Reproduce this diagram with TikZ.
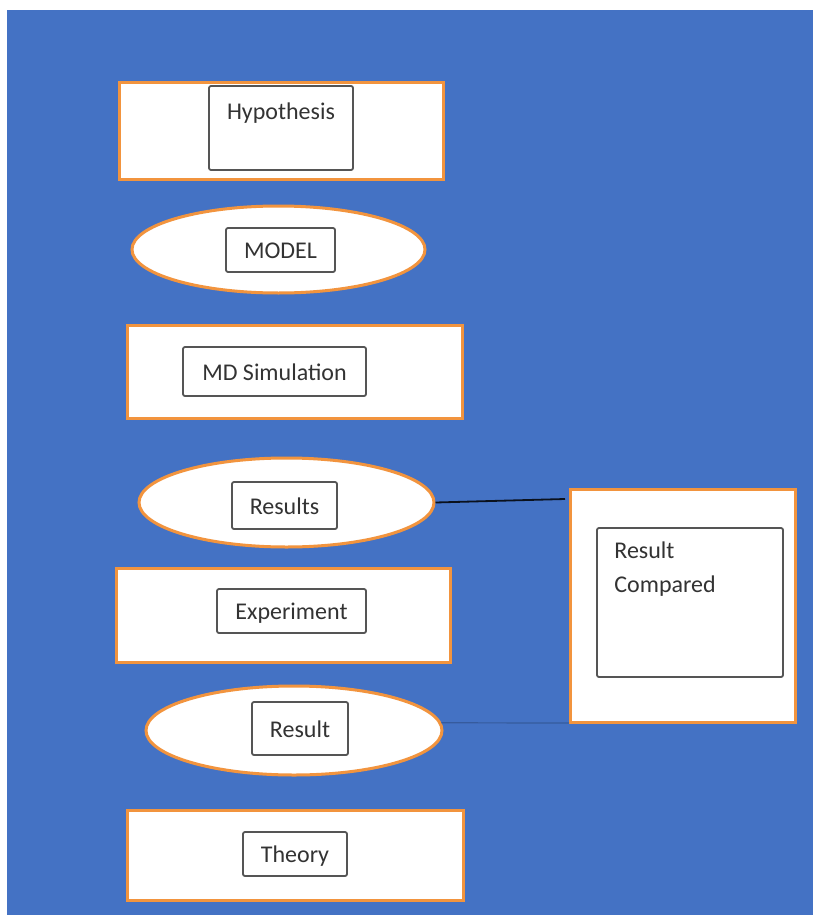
\documentclass[tikz,border=0pt]{standalone}
\usepackage{fontspec}
\setmainfont{Carlito}
\usepackage{tikz}
\usetikzlibrary{shapes.geometric, positioning}
\definecolor{bgblue}{HTML}{4472C4}
\definecolor{edgeorange}{HTML}{F2943E}
\definecolor{boxgray}{HTML}{555555}
\definecolor{txtgray}{HTML}{333333}
\tikzset{
  stage/.style={rectangle, draw=edgeorange, fill=white, line width=1.5pt, inner sep=0pt},
  outcome/.style={ellipse, draw=edgeorange, fill=white, line width=1.5pt, inner sep=0pt},
  tag/.style={rectangle, draw=boxgray, line width=0.9pt, rounded corners=1pt, inner sep=0pt,
    text=txtgray, font=\fontsize{12}{14.5}\selectfont, text height=9.5pt, text depth=1pt},
  link/.style={line width=0.9pt}
}

\begin{document}
\begin{tikzpicture}[x=0.5pt,y=-0.5pt]
		\useasboundingbox (0,0) rectangle (813,915);
		% Hintergrund
		\fill[white] (0,0) rectangle (813,915);
		\fill[bgblue] (7,10) rectangle (813,915);
		
		% linke Spalte
		\node[stage, minimum width=162pt, minimum height=48pt] (hyp) at (281,131) {};
		\node[tag, minimum width=72pt, minimum height=42pt] (hypbox) at (281,128) {};
		\node[text=txtgray, font=\fontsize{12}{14.5}\selectfont] (hyptext) at (281,113) {Hypothesis};
		
		\node[outcome, minimum width=146.5pt, minimum height=43.5pt] (model) at (278.5,249.5) {};
		\node[tag, minimum width=54.5pt, minimum height=22pt] (modelbox) at (280.5,250) {MODEL};
		
		\node[stage, minimum width=167.5pt, minimum height=46.5pt] (md) at (294.5,371.5) {};
		\node[tag, minimum width=91.5pt, minimum height=24.5pt] (mdbox) at (274.5,371.5) {MD Simulation};
		
		\node[outcome, minimum width=147.5pt, minimum height=44.5pt] (results) at (286.5,502.5) {};
		\node[tag, minimum width=52.5pt, minimum height=23.5pt] (resultsbox) at (284.5,505.5) {Results};
		
		\node[stage, minimum width=167pt, minimum height=47pt] (exp) at (283,615) {};
		\node[tag, minimum width=74.5pt, minimum height=22pt] (expbox) at (291.5,611) {Experiment};
		
		\node[outcome, minimum width=148pt, minimum height=44.5pt] (result) at (294,730.5) {};
		\node[tag, minimum width=48pt, minimum height=26.5pt] (resultbox) at (300,728.5) {Result};
		
		\node[stage, minimum width=168pt, minimum height=45pt] (theory) at (295,855) {};
		\node[tag, minimum width=52pt, minimum height=22pt] (theorybox) at (295,854) {Theory};
		
		% Vergleich
		\node[stage, minimum width=112.5pt, minimum height=116.5pt] (cmp) at (682.5,605.5) {};
		\node[tag, minimum width=93pt, minimum height=74.5pt] (cmpbox) at (690,602.5) {};
		\node[anchor=north west, align=left, inner sep=0pt, text=txtgray,
		  font=\fontsize{12}{17}\selectfont] (cmptext) at (614,541) {Result\\Compared};
		
		% Verbindungen
		\coordinate (cmpin) at (565,499);
		\coordinate (cmplow) at (569,723);
		\draw[link, black!85!bgblue] (results.east) -- (cmpin);
		\draw[line width=0.6pt, bgblue!80!black] (result.3) -- (cmplow);
	\end{tikzpicture}
\end{document}
